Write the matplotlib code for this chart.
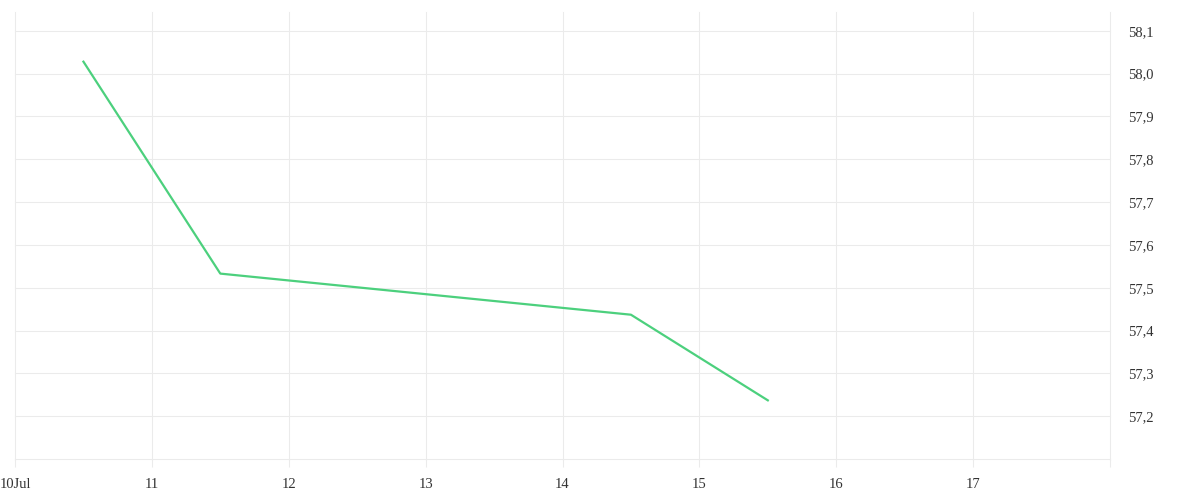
import matplotlib
matplotlib.use("Agg")
import matplotlib.pyplot as plt

# Data (day of July)
days = [10.5, 11.5, 14.5, 15.5]
values = [58.028, 57.533, 57.437, 57.237]

xtick_pos = [10, 11, 12, 13, 14, 15, 16, 17, 18]
xtick_labels = ["10Jul", "11", "12", "13", "14", "15", "16", "17", ""]
ytick_vals = [57.1, 57.2, 57.3, 57.4, 57.5, 57.6, 57.7, 57.8, 57.9, 58.0, 58.1]
ytick_labels = ["", "57,2", "57,3", "57,4", "57,5", "57,6", "57,7", "57,8", "57,9", "58,0", "58,1"]

plt.rcParams['font.family'] = ['Liberation Serif', 'DejaVu Serif']

fig = plt.figure(figsize=(12, 5), dpi=100)
ax = fig.add_axes([15/1200, 41/500, 1095/1200, 447/500])

grid_c = "#ebebeb"
ax.plot(days, values, color="#4cd07d", linewidth=1.6, solid_joinstyle="round", zorder=3)

ax.set_xlim(10, 18)
ax.set_ylim(57.1, 58.144)

ax.set_xticks(xtick_pos)
ax.set_xticklabels(xtick_labels)
ax.set_yticks(ytick_vals)
ax.set_yticklabels(ytick_labels)

ax.yaxis.tick_right()
ax.tick_params(axis='y', length=0, pad=13, labelsize=10.5, labelcolor="#333333")
ax.tick_params(axis='x', length=6, width=0.75, color=grid_c, pad=7.5, labelsize=10.5, labelcolor="#333333")
for lbl in ax.get_yticklabels():
    lbl.set_horizontalalignment('left')

ax.grid(True, color=grid_c, linewidth=0.75, zorder=0)
for gl in ax.get_xgridlines() + ax.get_ygridlines():
    gl.set_clip_on(False)
for s in ax.spines.values():
    s.set_visible(False)

fig.savefig("out.png", dpi=100, facecolor="white")
